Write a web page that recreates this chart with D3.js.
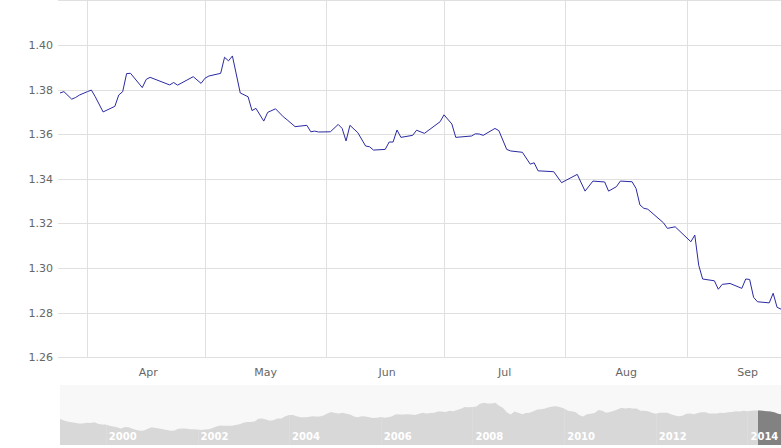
<!DOCTYPE html>
<html>
<head>
<meta charset="utf-8">
<script src="https://cdn.jsdelivr.net/npm/d3@7"></script>
<style>
  body { margin: 0; background: #fff; }
  svg { display: block; font-family: "DejaVu Sans", Verdana, sans-serif; }
  .tick-label { fill: #666; font-size: 11px; }
  .nav-label { fill: #fff; font-size: 10px; font-weight: bold; }
</style>
</head>
<body>
<div id="chart"></div>
<script>
// EUR/USD daily rate, Mar - Sep 2014
const rateDates = [
  "2014-03-25","2014-03-26","2014-03-28","2014-03-29","2014-03-30","2014-04-01","2014-04-02","2014-04-03",
  "2014-04-05","2014-04-08","2014-04-09","2014-04-10","2014-04-11","2014-04-12","2014-04-15","2014-04-16",
  "2014-04-17","2014-04-22","2014-04-23","2014-04-24","2014-04-28","2014-04-30","2014-05-01","2014-05-02",
  "2014-05-05","2014-05-06","2014-05-07","2014-05-08","2014-05-10","2014-05-12","2014-05-13","2014-05-14",
  "2014-05-16","2014-05-17","2014-05-19","2014-05-21","2014-05-22","2014-05-24","2014-05-27","2014-05-28",
  "2014-05-29","2014-05-30","2014-06-02","2014-06-04","2014-06-05","2014-06-06","2014-06-07","2014-06-09",
  "2014-06-11","2014-06-12","2014-06-13","2014-06-16","2014-06-17","2014-06-18","2014-06-19","2014-06-20",
  "2014-06-23","2014-06-24","2014-06-26","2014-06-30","2014-07-01","2014-07-03","2014-07-04","2014-07-08",
  "2014-07-09","2014-07-10","2014-07-11","2014-07-14","2014-07-15","2014-07-17","2014-07-18","2014-07-21",
  "2014-07-23","2014-07-24","2014-07-25","2014-07-29","2014-07-31","2014-08-04","2014-08-06","2014-08-08",
  "2014-08-11","2014-08-12","2014-08-14","2014-08-15","2014-08-18","2014-08-19","2014-08-20","2014-08-21",
  "2014-08-22","2014-08-26","2014-08-27","2014-08-29","2014-09-02","2014-09-03","2014-09-04","2014-09-05",
  "2014-09-08","2014-09-09","2014-09-10","2014-09-12","2014-09-15","2014-09-16","2014-09-17","2014-09-18",
  "2014-09-19","2014-09-22","2014-09-23","2014-09-24","2014-09-25"
]
const rateValues = [
  1.3785,1.3791,1.3757,1.3765,1.3776,1.3791,1.3798,1.3768,
  1.3700,1.3725,1.3776,1.3791,1.3872,1.3873,1.3809,1.3846,
  1.3855,1.3821,1.3832,1.3820,1.3858,1.3828,1.3851,1.3861,
  1.3873,1.3945,1.3929,1.3951,1.3785,1.3768,1.3706,1.3716,
  1.3659,1.3698,1.3714,1.3678,1.3664,1.3634,1.3640,1.3611,
  1.3614,1.3610,1.3611,1.3644,1.3626,1.3570,1.3640,1.3607,
  1.3547,1.3544,1.3529,1.3532,1.3565,1.3565,1.3619,1.3586,
  1.3595,1.3618,1.3604,1.3656,1.3687,1.3646,1.3586,1.3592,
  1.3602,1.3601,1.3595,1.3626,1.3616,1.3532,1.3525,1.3519,
  1.3466,1.3472,1.3436,1.3432,1.3383,1.3420,1.3345,1.3390,
  1.3386,1.3345,1.3365,1.3390,1.3387,1.3357,1.3283,1.3268,
  1.3264,1.3203,1.3178,1.3185,1.3118,1.3148,1.3013,1.2951,
  1.2943,1.2905,1.2927,1.2931,1.2909,1.2951,1.2949,1.2869,
  1.2849,1.2844,1.2887,1.2824,1.2816
]

const yGridTicks = [1.26, 1.28, 1.30, 1.32, 1.34, 1.36, 1.38, 1.40, 1.42]
const yLabelTicks = [1.26, 1.28, 1.30, 1.32, 1.34, 1.36, 1.38, 1.40]
const monthTicks = ["2014-04-01","2014-05-01","2014-06-01","2014-07-01","2014-08-01","2014-09-01"]

// navigator: monthly history from Jan 1999
const NAV_START = "1999-01-01"
const navValues = [
  1.16,1.12,1.09,1.07,1.06,1.04,1.04,1.06,1.05,1.07,1.03,1.01, // 1999
  1.01,0.98,0.96,0.94,0.91,0.95,0.94,0.90,0.87,0.85,0.86,0.90, // 2000
  0.94,0.92,0.91,0.89,0.87,0.85,0.86,0.90,0.91,0.91,0.89,0.89, // 2001
  0.88,0.87,0.88,0.89,0.92,0.96,0.99,0.98,0.98,0.98,1.00,1.02, // 2002
  1.06,1.08,1.08,1.09,1.16,1.17,1.14,1.11,1.13,1.17,1.17,1.23, // 2003
  1.26,1.26,1.23,1.20,1.20,1.21,1.23,1.22,1.22,1.25,1.30,1.34, // 2004
  1.31,1.30,1.32,1.29,1.27,1.22,1.20,1.23,1.22,1.20,1.18,1.19, // 2005
  1.21,1.19,1.20,1.23,1.28,1.27,1.27,1.28,1.27,1.26,1.29,1.32, // 2006
  1.30,1.31,1.32,1.35,1.35,1.34,1.37,1.36,1.39,1.42,1.47,1.46, // 2007
  1.47,1.48,1.55,1.58,1.56,1.56,1.58,1.50,1.44,1.33,1.27,1.35, // 2008
  1.32,1.28,1.31,1.32,1.36,1.40,1.41,1.43,1.46,1.48,1.49,1.46, // 2009
  1.43,1.37,1.36,1.34,1.26,1.22,1.28,1.29,1.31,1.39,1.37,1.32, // 2010
  1.34,1.37,1.40,1.45,1.43,1.44,1.43,1.43,1.37,1.37,1.36,1.32, // 2011
  1.29,1.32,1.32,1.32,1.28,1.25,1.23,1.24,1.29,1.30,1.28,1.31, // 2012
  1.33,1.33,1.30,1.30,1.30,1.32,1.31,1.33,1.34,1.36,1.35,1.37, // 2013
  1.36,1.37,1.38,1.38,1.37,1.36,1.35,1.33,1.29                 // 2014
]
const navYearTicks = ["2000-01-01","2002-01-01","2004-01-01","2006-01-01",
  "2008-01-01","2010-01-01","2012-01-01","2014-01-01"]

const WIDTH = 781
const HEIGHT = 448
const PLOT = {LEFT: 60, RIGHT: 781, TOP: 0.4, BOTTOM: 357.3}
const NAV = {TOP: 385, BOTTOM: 445}
const NAV_Y_DOMAIN = [0.48, 2.04]
const LINE_COLOR = "#2a2aa3"
const GRID_COLOR = "#e0e0e0"

const parse = d3.utcParse("%Y-%m-%d")
const series = rateDates.map((d, i) => ({date: parse(d), value: rateValues[i]}))
const navStart = parse(NAV_START)
const navSeries = navValues.map((v, i) => ({date: d3.utcMonth.offset(navStart, i), value: v}))
// carry navigator to the last day shown in the main chart
navSeries.push(series[series.length - 1])

const svg = d3.select("#chart").append("svg")
  .attr("width", WIDTH)
  .attr("height", HEIGHT)

// MAIN CHART
const x = d3.scaleUtc()
  .domain([series[0].date, series[series.length - 1].date])
  .range([PLOT.LEFT, PLOT.RIGHT])
const y = d3.scaleLinear()
  .domain([1.26, 1.42])
  .range([PLOT.BOTTOM, PLOT.TOP])

svg.append("g")
  .selectAll("line")
  .data(yGridTicks)
  .join("line")
    .attr("x1", PLOT.LEFT - 2)
    .attr("x2", PLOT.RIGHT)
    .attr("y1", d => Math.round(y(d)) + 0.5)
    .attr("y2", d => Math.round(y(d)) + 0.5)
    .attr("stroke", GRID_COLOR)

const months = monthTicks.map(parse)
svg.append("g")
  .selectAll("line")
  .data(months)
  .join("line")
    .attr("x1", d => Math.round(x(d)) + 0.5)
    .attr("x2", d => Math.round(x(d)) + 0.5)
    .attr("y1", 0)
    .attr("y2", PLOT.BOTTOM)
    .attr("stroke", GRID_COLOR)

svg.append("g")
  .selectAll("text")
  .data(yLabelTicks)
  .join("text")
    .attr("class", "tick-label")
    .attr("x", 53)
    .attr("y", d => y(d) + 4)
    .attr("text-anchor", "end")
    .text(d => d3.format(".2f")(d))

// month names sit half a month right of the month start
const dayWidth = x(d3.utcDay.offset(months[0], 1)) - x(months[0])
svg.append("g")
  .selectAll("text")
  .data(months)
  .join("text")
    .attr("class", "tick-label")
    .attr("x", d => x(d) + 15.5 * dayWidth)
    .attr("y", 376)
    .attr("text-anchor", "middle")
    .text(d3.utcFormat("%b"))

const line = d3.line()
  .x(d => x(d.date))
  .y(d => y(d.value))

svg.append("path")
  .datum(series)
  .attr("d", line)
  .attr("fill", "none")
  .attr("stroke", LINE_COLOR)
  .attr("stroke-width", 1)
  .attr("stroke-linejoin", "round")

// NAVIGATOR
const nx = d3.scaleUtc()
  .domain([navStart, series[series.length - 1].date])
  .range([PLOT.LEFT, PLOT.RIGHT])
const ny = d3.scaleLinear()
  .domain(NAV_Y_DOMAIN)
  .range([NAV.BOTTOM, NAV.TOP])

svg.append("rect")
  .attr("x", PLOT.LEFT)
  .attr("y", NAV.TOP)
  .attr("width", PLOT.RIGHT - PLOT.LEFT)
  .attr("height", NAV.BOTTOM - NAV.TOP)
  .attr("fill", "#f8f8f8")

const area = d3.area()
  .x(d => nx(d.date))
  .y0(NAV.BOTTOM)
  .y1(d => ny(d.value))

svg.append("path")
  .datum(navSeries)
  .attr("d", area)
  .attr("fill", "#d8d8d8")

// selected range is drawn darker
const selX = nx(series[0].date)
svg.append("clipPath")
    .attr("id", "sel-clip")
  .append("rect")
    .attr("x", selX)
    .attr("y", NAV.TOP)
    .attr("width", PLOT.RIGHT - selX)
    .attr("height", NAV.BOTTOM - NAV.TOP)

svg.append("path")
  .datum(navSeries)
  .attr("d", area)
  .attr("fill", "#828282")
  .attr("clip-path", "url(#sel-clip)")

const years = navYearTicks.map(parse)
svg.append("g")
  .selectAll("line")
  .data(years)
  .join("line")
    .attr("x1", d => Math.round(nx(d)) + 0.5)
    .attr("x2", d => Math.round(nx(d)) + 0.5)
    .attr("y1", NAV.TOP)
    .attr("y2", NAV.BOTTOM)
    .attr("stroke", "#ffffff")
    .attr("stroke-opacity", 0.12)

svg.append("g")
  .selectAll("text")
  .data(years)
  .join("text")
    .attr("class", "nav-label")
    .attr("x", d => nx(d) + 3)
    .attr("y", 440)
    .text(d3.utcFormat("%Y"))
</script>
</body>
</html>
